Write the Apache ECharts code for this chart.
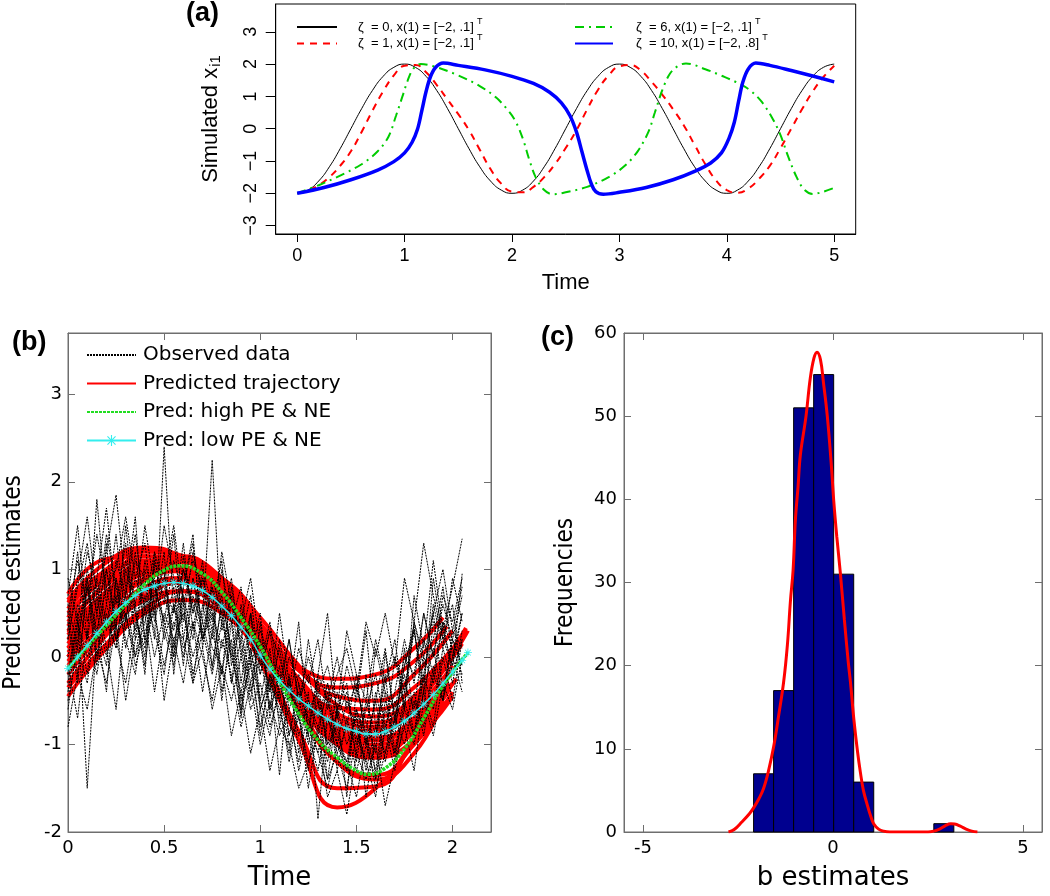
<!DOCTYPE html>
<html>
<head>
<meta charset="utf-8">
<script src="https://cdn.jsdelivr.net/npm/echarts/dist/echarts.min.js"></script>
<style>
  html, body { margin: 0; padding: 0; background: #fff; }
  #main { width: 1050px; height: 896px; }
</style>
</head>
<body>
<div id="main"></div>
<script>
// ---------- (a) simulated x_i1 ----------
var timeA = [0,0.1,0.2,0.3,0.4,0.5,0.6,0.7,0.8,0.9,1,1.1,1.2,1.3,1.4,1.5,1.6,1.7,1.8,1.9,
  2,2.1,2.2,2.3,2.4,2.5,2.6,2.7,2.8,2.9,3,3.1,3.2,3.3,3.4,3.5,3.6,3.7,3.8,3.9,
  4,4.1,4.2,4.3,4.4,4.5,4.6,4.7,4.8,4.9,5];
var zeta0 = [-2,-1.9,-1.62,-1.18,-0.62,0,0.62,1.18,1.62,1.9,2,1.9,1.62,1.18,0.62,0,-0.62,-1.18,-1.62,-1.9,
  -2,-1.9,-1.62,-1.18,-0.62,0,0.62,1.18,1.62,1.9,2,1.9,1.62,1.18,0.62,0,-0.62,-1.18,-1.62,-1.9,
  -2,-1.9,-1.62,-1.18,-0.62,0,0.62,1.18,1.62,1.9,2];
var zeta1 = [-2,-1.92,-1.75,-1.5,-1.15,-0.7,-0.1,0.55,1.15,1.65,1.95,1.97,1.75,1.35,0.9,0.45,-0.05,-0.65,-1.25,-1.7,
  -1.95,-1.97,-1.8,-1.5,-1.1,-0.6,-0.05,0.6,1.2,1.65,1.93,1.97,1.8,1.45,1.05,0.6,0.1,-0.5,-1.1,-1.6,
  -1.9,-1.98,-1.85,-1.55,-1.15,-0.6,0,0.6,1.15,1.6,1.95];
var zeta6Time = [0,0.2,0.4,0.6,0.75,0.85,0.92,0.98,1.03,1.08,1.15,1.3,1.5,1.7,1.85,1.95,2.03,2.1,2.16,2.22,2.3,2.38,
  2.5,2.7,2.9,3.05,3.17,3.27,3.33,3.4,3.47,3.55,3.62,3.8,3.95,4.1,4.22,4.32,4.42,4.5,4.57,4.65,4.72,4.8,4.9,5];
var zeta6 = [-2,-1.75,-1.45,-1.1,-0.7,-0.25,0.4,1,1.5,1.85,2,1.9,1.65,1.32,0.97,0.62,0.25,-0.3,-0.95,-1.5,-1.9,-2.03,
  -1.97,-1.8,-1.5,-1.15,-0.7,-0.1,0.5,1.2,1.7,1.95,2.02,1.84,1.64,1.42,1.18,0.85,0.35,-0.2,-0.85,-1.5,-1.88,-2.02,-1.95,-1.83];
var zeta10Time = [0,0.25,0.5,0.75,0.9,1,1.07,1.12,1.16,1.2,1.24,1.29,1.36,1.5,1.75,2,2.2,2.35,2.46,2.54,2.6,2.65,2.7,2.74,2.78,2.85,
  3,3.25,3.5,3.7,3.85,3.95,4.02,4.07,4.11,4.15,4.2,4.27,4.4,4.6,4.8,5];
var zeta10 = [-2,-1.82,-1.58,-1.28,-1.02,-0.75,-0.42,-0.02,0.55,1.15,1.6,1.9,2.03,1.96,1.82,1.62,1.4,1.13,0.8,0.4,-0.1,-0.7,-1.3,-1.72,-1.95,-2.03,
  -1.97,-1.82,-1.58,-1.32,-1.06,-0.75,-0.3,0.2,0.85,1.45,1.85,2.03,1.96,1.8,1.63,1.45];
var ticksAX = [0, 1, 2, 3, 4, 5];
var ticksAY = [-3, -2, -1, 0, 1, 2, 3];

// ---------- (b) observed and predicted ----------
var obsTime = [0,0.05,0.1,0.15,0.2,0.25,0.3,0.35,0.4,0.45,0.5,0.55,0.6,0.65,0.7,0.75,0.8,0.85,0.9,0.95,
  1,1.05,1.1,1.15,1.2,1.25,1.3,1.35,1.4,1.45,1.5,1.55,1.6,1.65,1.7,1.75,1.8,1.85,1.9,1.95,2,2.05];
var observed = [
  [0.4,-0.3,0.9,0.2,1.3,0.2,0.75,1.6,0.15,1.05, 0.95,0,1.15,0.5,1.1,-0.15,0.65,0.1,-0.65,0.5,
   -0.6,-0.25,-1.35,-0.25,-0.65,-1.3,-0.25,-1.1,-0.6,-1.6, -0.35,-0.75,-1.1,0.05,-0.75,-0.1,0.35,-0.6,0.4,0.3, -0.1,0.95],
  [-0.2,0.5,-1.5,0.3,-0.4,0.9,0.1,0.6,-0.2,1.2, 0.3,0.8,-0.1,0.9,0.2,0.5,-0.5,0.4,-0.6,0,
   -0.9,-0.2,-0.5,-1.2,-0.6,-1.5,-0.8,-0.4,-1.3,-0.7, -1.1,-0.2,-1.4,-0.6,-0.9,0.1,-0.7,-0.2,0.5,-0.4, 0.2,-0.1],
  [0.3,1.2,0.2,1.8,0.6,1.4,0.4,1.1,0.9,0.2, 2.4,0.5,1.3,0.3,1,0.6,-0.2,0.8,0.1,-0.5,
   0.4,-0.7,-0.1,-0.9,-0.3,-1,-0.5,-1.4,-0.6,-0.3, -1.2,-0.5,-0.9,-0.2,-1.1,-0.4,0.3,-0.3,0.6,0.1, 0.9,0.4],
  [-0.6,0.2,0.8,-0.1,1,0.3,1.5,0.5,0,1.1, 0.6,1.4,0.2,0.9,0.4,2.25,0.3,0.7,-0.3,0.5,
   -0.5,0.1,-0.8,-0.2,-1.1,-0.4,-1.85,-0.7,-1,-1.3, -0.6,-1.6,-0.9,-0.4,-1.2,-0.5,-0.9,0,-0.3,0.4, -0.2,0.2],
  [0.7,1.5,0.4,0.9,1.7,0.6,1.3,0.2,1,0.5, 1.2,-0.2,0.8,1.4,0.1,0.9,0.5,-0.3,0.6,0,
   0.5,-0.6,0.2,-0.4,0.4,-0.9,-0.2,0.5,-0.7,-0.1, -0.5,0.3,-0.8,-0.3,0.2,-0.6,0.7,0.1,1.1,0.3, 0.8,1.35],
  [-0.8,-0.2,-0.6,0.1,-0.3,0.4,-0.5,0.2,0.5,-0.4, 0.3,-0.1,0.6,-0.3,0.1,-0.6,-0.1,-0.9,-0.4,-1.1,
   -0.6,-1.3,-0.8,-1,-1.5,-1.2,-0.9,-1.6,-1.3,-1.8, -1.1,-1.4,-1,-1.7,-1.2,-0.8,-1.3,-0.5,-0.9,-0.3, -0.6,0],
  [0.2,0.9,1.6,0.7,1.2,1.85,0.8,0.3,1.1,0.6, 1.5,0.9,0.4,1.2,0.7,0.2,1,0.4,0.8,-0.1,
   0.3,0,-0.4,0.2,-0.5,-0.2,-0.7,-0.3,-1,-0.5, -0.8,-1.2,-0.4,-0.9,0,-0.6,0.4,-0.1,0.2,0.8, 0,0.5],
  [-0.3,0.4,-0.2,0.7,0.1,-0.6,0.5,0,0.7,0.3, -0.2,0.6,0.1,0.4,-0.4,0.3,-0.2,0.5,-0.5,-0.1,
   -0.8,-0.3,-0.6,-1.1,-0.5,-0.9,-1.3,-0.7,-1.1,-1.5, -0.9,-1.2,-1.6,-0.8,-1.3,-0.7,-1,-0.4,-0.8,0, -0.5,0.2],
  [0.5,1.1,0.6,1.4,0.8,1,1.6,0.9,1.3,0.4, 0.9,1.5,0.6,1.1,0.8,0.3,1.2,0.6,0.2,0.7,
   -0.2,0.3,0,-0.5,0.1,-0.3,0.2,-0.6,-0.2,0.1, -0.4,0.4,0,0.5,-0.1,0.9,0.4,1.3,0.7,0.2, 0.6,-0.3],
  [0,0.6,0.2,0.9,0.4,0.1,1,0.5,-0.1,0.8, 0.4,0,0.7,-0.2,0.3,0.8,-0.4,0.2,-0.7,0.1,
   -0.5,-0.9,-0.3,-0.7,-1.2,-0.6,-0.4,-1,-0.8,-1.3, -0.6,-1,-0.5,-1.2,-0.7,-0.2,-0.9,-0.4,0.1,-0.5, 0.3,0.1],
  [-0.4,0.3,0.9,0,0.6,0.2,-0.3,0.4,0.1,0.6, -0.5,0.2,0.5,0,0.4,-0.1,0.6,-0.3,0.2,-0.4,
   0,-0.6,-0.2,-0.9,-0.4,-0.7,-1.1,-0.5,-0.9,-1.2, -0.6,-0.9,-1.3,-0.5,-0.8,-0.3,-0.6,0.2,-0.2,0.4, 0.1,-0.2],
  [0.9,0.4,1.2,0.8,0.3,1.1,0.7,1.4,0.5,1, 0.7,0.3,1,0.5,0.9,0.4,0.7,0,0.5,0.2,
   -0.2,0.3,-0.5,0,-0.3,-0.8,-0.2,-0.5,0,-0.6, -0.3,-0.9,0.1,-0.4,-0.6,0,-0.2,0.5,0,0.6, 0.2,0.7],
  [0.5,-0.2,0.8,0.3,-0.1,0.9,0.4,1.2,0.2,0.7, 1,0.1,0.8,1.3,0.2,0.6,1.1,-0.1,0.4,0.9,
   0.1,-0.4,0.5,-0.3,-0.7,0.2,-0.5,-1,-0.4,-0.8, -0.2,-1,-0.5,0.1,-0.7,-0.1,0.3,-0.4,0.9,0.2, -0.1,0.5],
  [-0.5,0.1,-0.3,0.5,0,0.7,0.2,-0.2,0.6,0, 0.5,0.2,-0.3,0.4,0,-0.5,0.2,-0.2,-0.8,-0.3,
   -1,-0.5,-0.9,-0.6,-1.3,-0.8,-1.1,-1.5,-1,-1.2, -1.6,-1,-1.4,-0.8,-1.1,-0.6,-0.9,-0.2,-0.6,0.1, -0.3,0.3],
  [0.2,0.8,1.3,0.5,1,0.4,1.1,0.6,1.5,0.8, 0.4,1.1,0.7,0.2,0.9,0.5,0.1,0.6,0.3,-0.3,
   0.2,-0.4,0.1,-0.6,-0.2,-0.5,-0.9,-0.3,-0.7,-0.4, -1,-0.6,-0.2,-0.8,-0.4,0.2,-0.3,0.5,0,0.7, 0.4,0.9],
  [-0.1,-0.7,0.3,-0.2,0.5,0.1,0.7,0,0.4,0.9, 0.2,0.6,0,0.7,0.3,-0.2,0.4,0,-0.4,0.1,
   -0.6,-0.2,-0.7,-0.3,-0.9,-0.5,-0.8,-1.2,-0.6,-1, -0.7,-1.3,-0.8,-1.1,-0.5,-0.8,-0.4,-0.9,-0.2,-0.5, 0,-0.4],
  [0.6,0.1,1,0.5,1.4,0.8,0.3,0.9,0.6,1.2, 0.8,0.5,1,0.6,0.2,0.8,0.4,0.9,0,0.5,
   -0.1,0.4,-0.3,0.2,-0.5,0,-0.4,-0.1,-0.6,0.3, -0.2,-0.5,0.2,-0.3,0,-0.4,0.4,0,0.5,1, 0.3,0.8],
  [-0.2,0.4,0,0.3,0.8,0.2,0.5,-0.1,0.3,0.5, -0.1,0.4,0.2,-0.3,0.6,0.1,-0.1,-0.5,0,-0.6,
   -0.3,-0.8,-0.4,-1,-0.7,-1.2,-0.9,-1.4,-1.1,-0.8, -1.3,-0.9,-1.5,-1.1,-0.7,-1,-0.5,-0.8,-0.1,-0.5, 0.2,-0.1]
];
var predTime = [0,0.2,0.4,0.6,0.8,1,1.2,1.4,1.6,1.8];
var predEndTime = [1.95,1.97,2,2.07,1.97,1.98,1.95,1.9,2,2,2.08,2,1.95,2,2,1.98,
  2,1.97,2.05,1.97,1.95,2.02,2,1.98];
var predicted = [
  [0.72,1.12,1.15,0.95,0.6,0.2,-0.12,-0.25,-0.2,0.1,0.45],
  [0.55,1,1.22,1.15,0.8,0.3,-0.15,-0.35,-0.3,-0.05,0.35],
  [0.4,0.82,1.07,1.1,0.85,0.38,-0.15,-0.45,-0.5,-0.2,0.3],
  [0.28,0.7,1,1.08,0.9,0.45,-0.1,-0.55,-0.68,-0.45,0.33],
  [0.15,0.65,1,1.12,0.9,0.35,-0.4,-1,-1.15,-0.8,-0.3],
  [0.05,0.45,0.8,0.9,0.72,0.25,-0.35,-0.85,-1.05,-0.85,-0.38],
  [0.2,0.7,1.05,1.1,0.75,0.05,-0.85,-1.5,-1.48,-0.95,-0.5],
  [0,0.55,0.95,1,0.65,-0.05,-0.95,-1.72,-1.5,-0.95,-0.55],
  [-0.45,0.1,0.5,0.65,0.5,0.05,-0.55,-1,-1.15,-0.95,-0.45],
  [-0.3,0.25,0.68,0.85,0.68,0.2,-0.4,-0.9,-1.1,-0.85,-0.3],
  [-0.05,0.4,0.75,0.88,0.7,0.25,-0.3,-0.7,-0.8,-0.55,0.3],
  [0.35,0.85,1.15,1.15,0.8,0.15,-0.6,-1.2,-1.35,-1,-0.4],
  [0.5,0.9,1.1,1,0.65,0.1,-0.45,-0.85,-0.95,-0.7,-0.35],
  [-0.2,0.3,0.65,0.75,0.55,0.1,-0.45,-0.85,-0.95,-0.7,-0.15],
  [0.62,0.98,1.08,0.95,0.62,0.15,-0.3,-0.58,-0.6,-0.35,0.1],
  [0.1,0.55,0.9,0.98,0.75,0.25,-0.3,-0.75,-0.92,-0.72,-0.2],
  [0.45,0.95,1.2,1.12,0.75,0.2,-0.4,-0.8,-0.85,-0.55,0],
  [0.3,0.75,1.02,1.02,0.72,0.18,-0.45,-0.95,-1.1,-0.85,-0.35],
  [-0.1,0.35,0.72,0.85,0.7,0.28,-0.25,-0.65,-0.75,-0.5,0.15],
  [0.65,1.08,1.25,1.12,0.72,0.12,-0.5,-0.95,-1.05,-0.75,-0.2],
  [0.1,0.6,0.98,1.08,0.82,0.22,-0.55,-1.2,-1.4,-1.1,-0.5],
  [-0.35,0.15,0.55,0.75,0.62,0.2,-0.35,-0.8,-0.95,-0.75,-0.25],
  [0.25,0.7,0.98,1,0.7,0.2,-0.35,-0.75,-0.85,-0.6,-0.1],
  [0,0.5,0.88,0.98,0.78,0.3,-0.3,-0.8,-1,-0.8,-0.3]
];
var highTime = [0,0.1,0.2,0.3,0.4,0.5,0.58,0.7,0.8,0.9,1,1.1,1.2,1.3,1.4,1.5,1.56,1.65,1.75,1.85,1.95,2.08];
var highPE = [-0.13,0.12,0.36,0.6,0.83,0.99,1.04,0.95,0.74,0.45,0.12,-0.28,-0.65,-0.95,-1.15,-1.3,-1.34,-1.27,-1.05,-0.7,-0.33,0.05];
var lowTime = [0,0.05,0.1,0.15,0.2,0.25,0.3,0.35,0.4,0.45,0.5,0.55,0.6,0.65,0.7,0.75,0.8,0.85,0.9,0.95,
  1,1.05,1.1,1.15,1.2,1.25,1.3,1.35,1.4,1.45,1.5,1.55,1.6,1.65,1.7,1.75,1.8,1.85,1.9,1.95,2,2.05,2.08];
var lowPE = [-0.13,0,0.13,0.27,0.4,0.52,0.62,0.7,0.77,0.81,0.84,0.85,0.84,0.81,0.76,0.68,0.58,0.47,0.34,0.2,
  0.02,-0.14,-0.27,-0.38,-0.48,-0.56,-0.64,-0.71,-0.77,-0.82,-0.85,-0.88,-0.88,-0.85,-0.8,-0.73,-0.64,-0.54,-0.43,-0.3,-0.17,-0.04,0.05];
var ticksBX = [0, 0.5, 1, 1.5, 2];
var ticksBY = [-2, -1, 0, 1, 2, 3];

// ---------- (c) histogram of b estimates ----------
var binEdges = [-2.09,-1.563,-1.036,-0.509,0.018,0.545,1.072,1.599,2.126,2.653,3.18];
var binCounts = [7,17,51,55,31,6,0,0,0,1];
var densX = [-2.75,-2.6,-2.4,-2.2,-2.09,-1.95,-1.83,-1.7,-1.56,-1.43,-1.3,-1.2,-1.12,-1.05,-0.99,-0.92,-0.86,-0.71,-0.6,-0.5,-0.42,
  -0.33,-0.25,-0.15,-0.05,0.02,0.1,0.19,0.3,0.4,0.46,0.55,0.65,0.72,0.8,0.9,1,1.07,1.2,1.33,1.5,
  2.5,2.65,2.8,2.95,3.1,3.2,3.35,3.5,3.65,3.8];
var densY = [0,0.3,1.2,2.2,2.9,4,5.2,7.3,10.3,14,18,22.5,27.8,31.5,37.5,41.5,45.3,50,54.5,57,57.7,
  56.8,54,50,44.5,39.8,35.5,31.3,25.5,20.5,18,13.5,9.5,7.2,5,3.3,1.8,1,0.35,0.1,0,
  0,0.1,0.35,0.75,0.98,0.95,0.7,0.35,0.1,0];
var ticksCX = [-5, 0, 5];
var ticksCY = [0, 10, 20, 30, 40, 50, 60];

function pairs(xs, ys) {
  return ys.slice(0, xs.length).map(function (v, i) { return [xs[i], v]; });
}
function minus(v) { return String(v).replace('-', '\u2212'); }

var chart = echarts.init(document.getElementById('main'));

var gray = '#6e6e6e';
var rFont = 'Liberation Sans';
var mFont = 'DejaVu Sans';
var narrow = '"DejaVu Sans Condensed", "Liberation Sans Narrow", "Liberation Sans", sans-serif';

// asterisk marker like matlab '*'
var star = 'path://M0 9L20 9L20 11L0 11Z M9 0L11 0L11 20L9 20Z M2.1 3.5L3.5 2.1L17.9 16.5L16.5 17.9Z M16.5 2.1L17.9 3.5L3.5 17.9L2.1 16.5Z';

var names = {
  z0: '\u03b6  = 0, x(1) = [\u22122, .1]',
  z1: '\u03b6  = 1, x(1) = [\u22122, .1]',
  z6: '\u03b6  = 6, x(1) = [\u22122, .1]',
  z10: '\u03b6  = 10, x(1) = [\u22122, .8]'
};

function boxAxis(grid, min, max, ticks, pos) {
  return {
    gridIndex: grid, type: 'value', min: min, max: max, position: pos,
    axisLine: { show: true, onZero: false, lineStyle: { color: gray, width: 1 } },
    axisTick: { show: true, inside: true, length: 7, customValues: ticks, lineStyle: { color: gray } },
    axisLabel: { show: false },
    splitLine: { show: false }
  };
}

var series = [];

// (a)
series.push({ name: names.z0, type: 'line', xAxisIndex: 0, yAxisIndex: 0, data: pairs(timeA, zeta0),
  symbol: 'none', smooth: true, lineStyle: { color: '#000', width: 1 }, itemStyle: { color: '#000' }, z: 2 });
series.push({ name: names.z1, type: 'line', xAxisIndex: 0, yAxisIndex: 0, data: pairs(timeA, zeta1),
  symbol: 'none', smooth: true, lineStyle: { color: '#ff0000', width: 2, type: [7, 6] }, itemStyle: { color: '#ff0000' }, z: 3 });
series.push({ name: names.z6, type: 'line', xAxisIndex: 0, yAxisIndex: 0, data: pairs(zeta6Time, zeta6),
  symbol: 'none', smooth: 0.35, lineStyle: { color: '#00cc00', width: 2, type: [9, 5, 2, 5] }, itemStyle: { color: '#00cc00' }, z: 4 });
series.push({ name: names.z10, type: 'line', xAxisIndex: 0, yAxisIndex: 0, data: pairs(zeta10Time, zeta10),
  symbol: 'none', smooth: 0.35, lineStyle: { color: '#0000ff', width: 3.5 }, itemStyle: { color: '#0000ff' }, z: 5 });

// (b)
predicted.forEach(function (vals, k) {
  series.push({ name: 'Predicted trajectory', type: 'line', xAxisIndex: 1, yAxisIndex: 1,
    data: pairs(predTime.concat([predEndTime[k]]), vals),
    symbol: 'none', smooth: true, lineStyle: { color: '#ff0000', width: 4 }, itemStyle: { color: '#ff0000' }, z: 2 });
});
observed.forEach(function (vals) {
  series.push({ name: 'Observed data', type: 'line', xAxisIndex: 1, yAxisIndex: 1, data: pairs(obsTime, vals),
    symbol: 'none', lineStyle: { color: '#000', width: 1, type: [2, 1] }, itemStyle: { color: '#000' }, z: 3 });
});
series.push({ name: 'Pred: high PE & NE', type: 'line', xAxisIndex: 1, yAxisIndex: 1, data: pairs(highTime, highPE),
  symbol: 'none', smooth: true, lineStyle: { color: '#22dd22', width: 3.5, type: [3, 1] }, itemStyle: { color: '#22dd22' }, z: 4 });
series.push({ name: 'Pred: low PE & NE', type: 'line', xAxisIndex: 1, yAxisIndex: 1, data: pairs(lowTime, lowPE),
  symbol: star, symbolSize: 8, showSymbol: true, smooth: true,
  lineStyle: { color: '#33eeee', width: 1.5 }, itemStyle: { color: '#33eeee' }, z: 5 });

// (c)
var bins = [];
binCounts.forEach(function (c, i) { if (c > 0) bins.push([binEdges[i], binEdges[i + 1], c]); });
series.push({
  type: 'custom', xAxisIndex: 3, yAxisIndex: 3, data: bins, encode: { x: [0, 1], y: 2 }, z: 2,
  renderItem: function (params, api) {
    var p0 = api.coord([api.value(0), api.value(2)]);
    var p1 = api.coord([api.value(1), 0]);
    return { type: 'rect', shape: { x: p0[0], y: p0[1], width: p1[0] - p0[0], height: p1[1] - p0[1] },
      style: { fill: '#00008f', stroke: '#000', lineWidth: 1 } };
  }
});
series.push({ type: 'line', xAxisIndex: 3, yAxisIndex: 3, data: pairs(densX, densY), symbol: 'none', smooth: 0.4,
  lineStyle: { color: '#ff0000', width: 3 }, z: 3 });

var hideSym = { opacity: 0 };

var option = {
  animation: false,
  backgroundColor: '#fff',
  title: [
    { text: '(a)', left: 186, top: 0, padding: 0, textStyle: { fontFamily: rFont, fontWeight: 'bold', fontSize: 27, color: '#000' } },
    { text: '(b)', left: 12, top: 329, padding: 0, textStyle: { fontFamily: rFont, fontWeight: 'bold', fontSize: 27, color: '#000' } },
    { text: '(c)', left: 541, top: 324, padding: 0, textStyle: { fontFamily: rFont, fontWeight: 'bold', fontSize: 27, color: '#000' } }
  ],
  legend: [
    { data: [names.z0, names.z1], orient: 'vertical', left: 296, top: 17, padding: 0,
      itemWidth: 40, itemHeight: 14, itemGap: 0, itemStyle: hideSym,
      formatter: function (n) { return '{t|' + n + '}{s|T}'; },
      textStyle: { padding: [0, 0, 0, 16], rich: {
        t: { fontFamily: rFont, fontSize: 13, color: '#000' },
        s: { fontFamily: rFont, fontSize: 9, color: '#000', padding: [0, 0, 11, 3] } } } },
    { data: [names.z6, names.z10], orient: 'vertical', left: 574, top: 17, padding: 0,
      itemWidth: 38, itemHeight: 14, itemGap: 0, itemStyle: hideSym,
      formatter: function (n) { return '{t|' + n + '}{s|T}'; },
      textStyle: { padding: [0, 0, 0, 18], rich: {
        t: { fontFamily: rFont, fontSize: 13, color: '#000' },
        s: { fontFamily: rFont, fontSize: 9, color: '#000', padding: [0, 0, 11, 3] } } } },
    { data: ['Observed data', 'Predicted trajectory', 'Pred: high PE & NE',
        { name: 'Pred: low PE & NE', itemStyle: { opacity: 1 } }],
      orient: 'vertical', left: 86, top: 345, padding: 0, itemWidth: 49, itemHeight: 14, itemGap: 8.5,
      itemStyle: hideSym,
      textStyle: { fontFamily: mFont, fontSize: 20, color: '#000', padding: [0, 0, 0, 2] } }
  ],
  grid: [
    { left: 275.7, top: 4, width: 580, height: 230, show: true, borderColor: '#000', borderWidth: 1, backgroundColor: 'transparent' },
    { left: 68, top: 333, width: 423, height: 515, show: true, borderColor: gray, borderWidth: 1, backgroundColor: 'transparent' },
    { left: 624, top: 333, width: 418, height: 515, show: true, borderColor: gray, borderWidth: 1, backgroundColor: 'transparent' }
  ],
  xAxis: [
    { gridIndex: 0, type: 'value', min: -0.2, max: 5.2,
      axisLine: { show: true, onZero: false, lineStyle: { color: '#000' } },
      axisTick: { show: true, length: 8, customValues: ticksAX, lineStyle: { color: '#000' } },
      axisLabel: { customValues: ticksAX, margin: 13, fontFamily: rFont, fontSize: 18, color: '#000', formatter: minus },
      splitLine: { show: false },
      name: 'Time', nameLocation: 'middle', nameGap: 38,
      nameTextStyle: { fontFamily: rFont, fontSize: 22, color: '#000' } },
    { gridIndex: 1, type: 'value', min: 0, max: 2.2,
      axisLine: { show: true, onZero: false, lineStyle: { color: gray } },
      axisTick: { show: true, inside: true, length: 7, customValues: ticksBX, lineStyle: { color: gray } },
      axisLabel: { customValues: ticksBX, margin: 7, fontFamily: mFont, fontSize: 18, color: '#000' },
      splitLine: { show: false },
      name: 'Time', nameLocation: 'middle', nameGap: 33,
      nameTextStyle: { fontFamily: mFont, fontSize: 26, color: '#000' } },
    boxAxis(1, 0, 2.2, ticksBX, 'top'),
    { gridIndex: 2, type: 'value', min: -5.5, max: 5.5,
      axisLine: { show: true, onZero: false, lineStyle: { color: gray } },
      axisTick: { show: true, inside: true, length: 7, customValues: ticksCX, lineStyle: { color: gray } },
      axisLabel: { customValues: ticksCX, margin: 7, fontFamily: mFont, fontSize: 18, color: '#000' },
      splitLine: { show: false },
      name: 'b estimates', nameLocation: 'middle', nameGap: 33,
      nameTextStyle: { fontFamily: mFont, fontSize: 26, color: '#000' } },
    boxAxis(2, -5.5, 5.5, ticksCX, 'top')
  ],
  yAxis: [
    { gridIndex: 0, type: 'value', min: -3.26, max: 3.86,
      axisLine: { show: true, onZero: false, lineStyle: { color: '#000' } },
      axisTick: { show: true, length: 10, customValues: ticksAY, lineStyle: { color: '#000' } },
      axisLabel: { customValues: ticksAY, rotate: 90, margin: 16, fontFamily: rFont, fontSize: 18, color: '#000', formatter: minus },
      splitLine: { show: false },
      name: '{m|Simulated x}{s|i1}', nameLocation: 'middle', nameGap: 52,
      nameTextStyle: { fontFamily: rFont, fontSize: 22, color: '#000', rich: {
        m: { fontFamily: rFont, fontSize: 22, color: '#000' },
        s: { fontFamily: rFont, fontSize: 15, color: '#000', padding: [10, 0, 0, 1] } } } },
    { gridIndex: 1, type: 'value', min: -2, max: 3.7,
      axisLine: { show: true, onZero: false, lineStyle: { color: gray } },
      axisTick: { show: true, inside: true, length: 7, customValues: ticksBY, lineStyle: { color: gray } },
      axisLabel: { customValues: ticksBY, margin: 6, fontFamily: mFont, fontSize: 18, color: '#000' },
      splitLine: { show: false },
      name: 'Predicted estimates', nameLocation: 'middle', nameGap: 42,
      nameTextStyle: { fontFamily: narrow, fontSize: 24, color: '#000' } },
    boxAxis(1, -2, 3.7, ticksBY, 'right'),
    { gridIndex: 2, type: 'value', min: 0, max: 60,
      axisLine: { show: true, onZero: false, lineStyle: { color: gray } },
      axisTick: { show: true, inside: true, length: 7, customValues: ticksCY, lineStyle: { color: gray } },
      axisLabel: { customValues: ticksCY, margin: 7, fontFamily: mFont, fontSize: 18, color: '#000' },
      splitLine: { show: false },
      name: 'Frequencies', nameLocation: 'middle', nameGap: 46,
      nameTextStyle: { fontFamily: narrow, fontSize: 24, color: '#000' } },
    boxAxis(2, 0, 60, ticksCY, 'right')
  ],
  series: series
};

chart.setOption(option);
</script>
</body>
</html>
